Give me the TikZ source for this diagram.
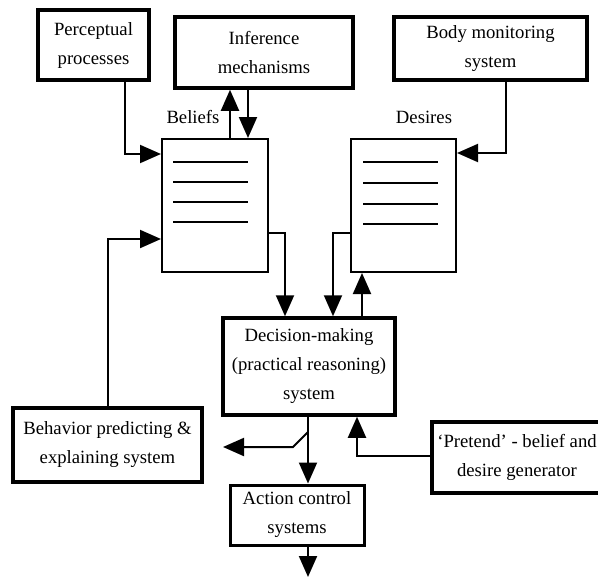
\documentclass[tikz,border=0pt]{standalone}
\usepackage{fontspec}
\setmainfont{Liberation Serif}
\usetikzlibrary{arrows.meta}
\begin{document}
\begin{tikzpicture}[x=1pt,y=-1pt,
  box/.style={draw, line width=3.5pt, align=center, inner sep=0pt,
              font=\fontsize{18.7}{29}\selectfont},
  store/.style={draw, line width=2pt, inner sep=0pt},
  rule/.style={line width=1.2pt},
  conn/.style={line width=2pt},
  arr/.style={conn, -{Triangle[length=21pt,width=18pt]}},
  lab/.style={font=\fontsize{18.7}{22}\selectfont}]

\useasboundingbox (0,0) rectangle (598,579);
\clip (0,0) rectangle (598,579);

% modules
\node[box, minimum width=111pt, minimum height=70pt] (perc) at (93.5,45) {Perceptual\\processes};
\node[box, minimum width=178pt, minimum height=71pt] (infer) at (264,52.5) {Inference\\mechanisms};
\node[box, minimum width=193pt, minimum height=63pt] (body) at (490.5,48.5) {Body monitoring\\system};
\node[box, minimum width=172pt, minimum height=97pt] (dec) at (309,366.5) {Decision-making\\(practical reasoning)\\system};
\node[box, minimum width=189pt, minimum height=74pt] (beh) at (107.5,445) {Behavior predicting \&\\explaining system};
\node[box, minimum width=170pt, minimum height=71pt] (pre) at (517,457.5) {‘Pretend’ - belief and\\desire generator};
\node[box, line width=3pt, minimum width=134pt, minimum height=60pt] (act) at (297,515) {Action control\\systems};

% belief and desire stores
\node[store, minimum width=106pt, minimum height=133pt] (bel) at (215,205.5) {};
\node[store, minimum width=105pt, minimum height=133pt] (des) at (403.5,205.5) {};
\node[lab] (bellab) at (193,117) {Beliefs};
\node[lab] (deslab) at (424,117) {Desires};
\foreach \y in {162,182,202,222} \draw[rule] (173,\y) -- (248,\y);
\foreach \y in {162,183,204,224} \draw[rule] (363,\y) -- (438,\y);

% routing points
\coordinate (pp) at (125,154);
\coordinate (up) at (230,0);
\coordinate (dn) at (248,0);
\coordinate (bm) at (506,153);
\coordinate (bd) at (285,233);
\coordinate (dd) at (333,233);
\coordinate (du) at (362,0);
\coordinate (bb) at (108,239);
\coordinate (da) at (308,0);
\coordinate (s1) at (308,432);
\coordinate (s2) at (293,447);
\coordinate (s3) at (223,447);
\coordinate (pg) at (357,456);
\coordinate (out) at (308,577);

% connectors
\draw[arr] (perc.south -| pp) |- (bel.west |- pp);
\draw[arr] (bel.north -| up) -- (infer.south -| up);
\draw[arr] (infer.south -| dn) -- (bel.north -| dn);
\draw[arr] (body.south -| bm) |- (des.east |- bm);
\draw[arr] (bel.east |- bd) -| (dec.north -| bd);
\draw[arr] (des.west |- dd) -| (dec.north -| dd);
\draw[arr] (dec.north -| du) -- (des.south -| du);
\draw[arr] (beh.north -| bb) |- (bel.west |- bb);
\draw[arr] (dec.south -| da) -- (act.north -| da);
\draw[arr] (s1) -- (s2) -- (s3);
\draw[arr] (pre.west |- pg) -| (dec.south -| pg);
\draw[arr] (act.south -| out) -- (out);
\end{tikzpicture}
\end{document}
